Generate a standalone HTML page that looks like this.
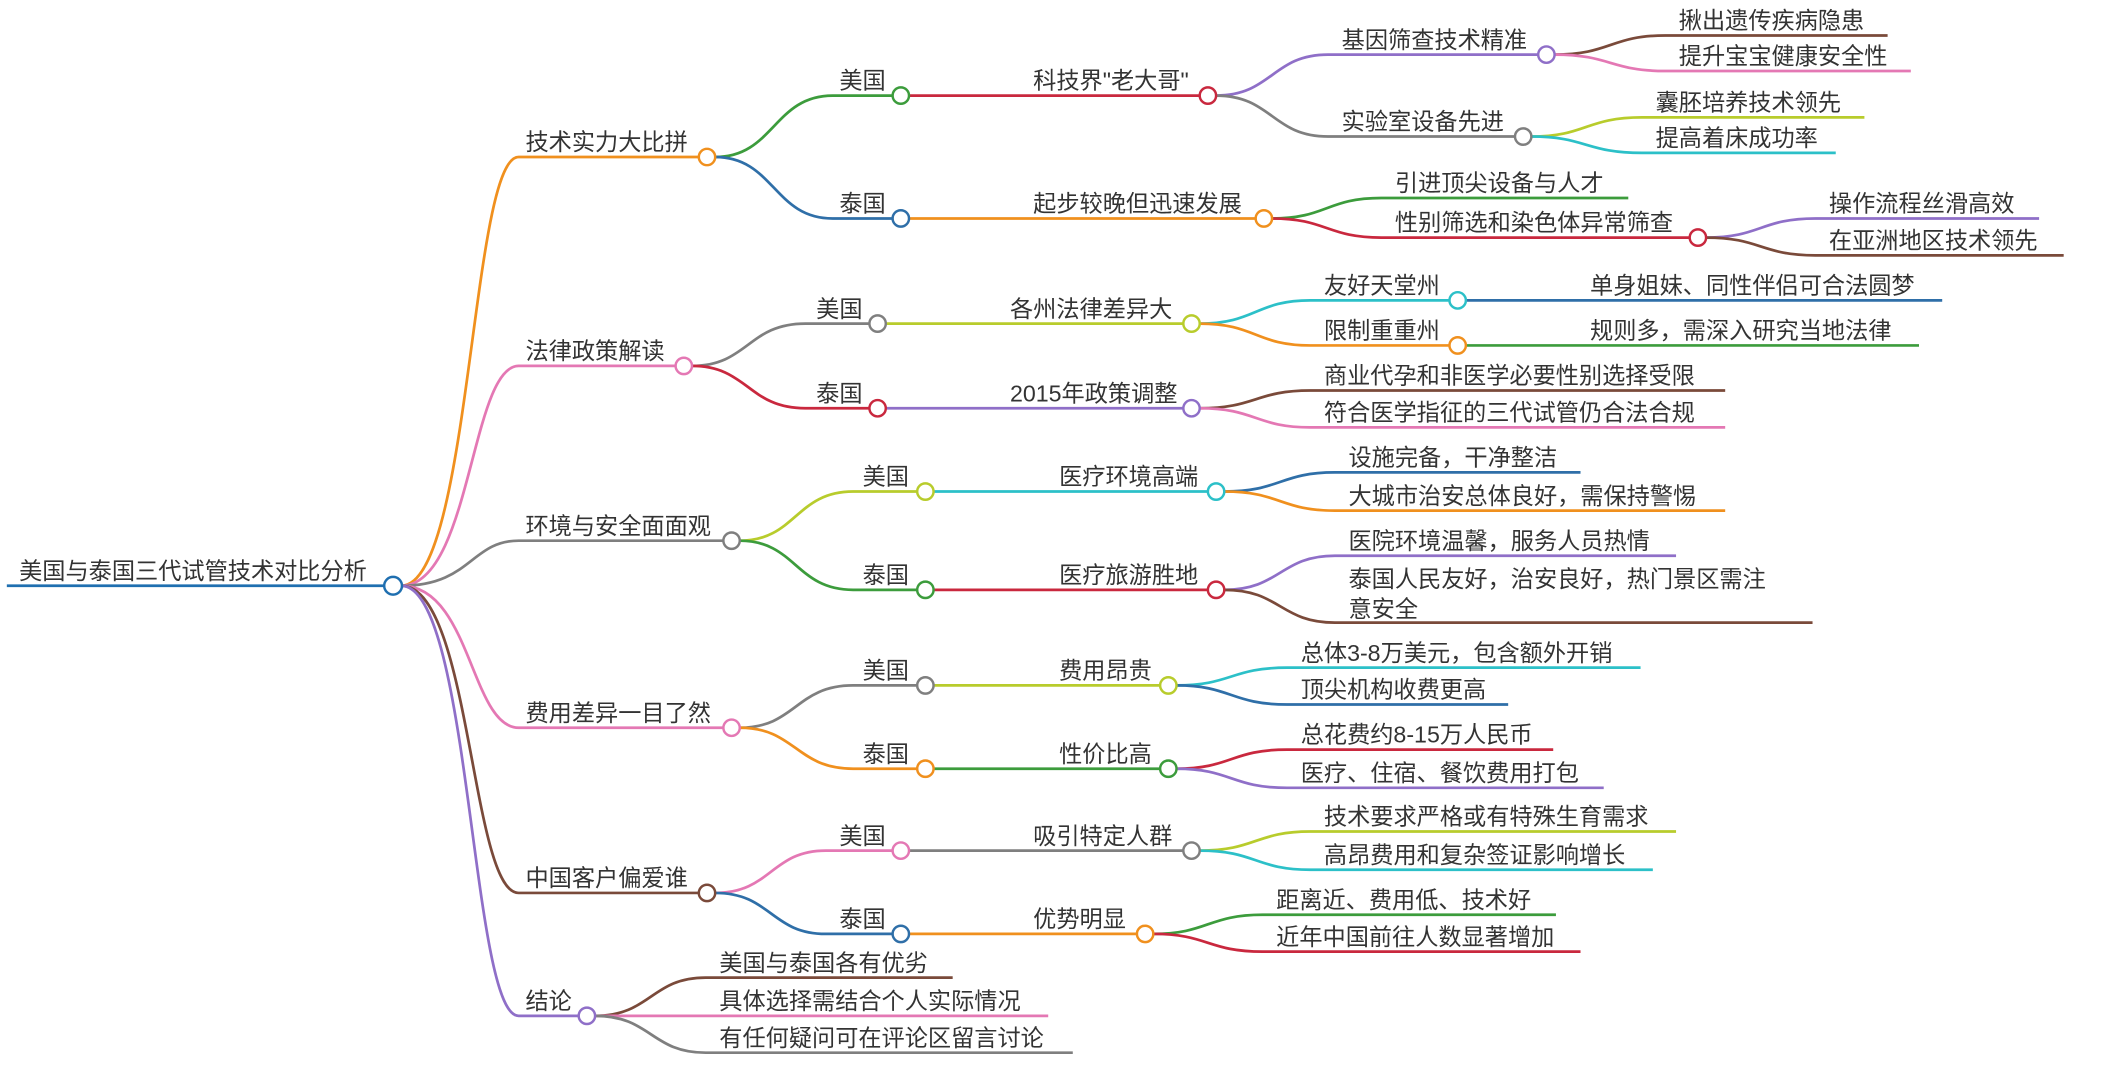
<!DOCTYPE html>
<html><head><meta charset="utf-8"><style>
html,body{margin:0;padding:0;background:#fff;}
svg{display:block;}
text{font-family:"Liberation Sans","Noto Sans CJK SC",sans-serif;font-size:17px;fill:#333;}
path{fill:none;stroke-width:2;}
circle{fill:#fff;stroke-width:1.8;}
</style></head><body>
<svg width="2121" height="1080" viewBox="0 0 1554 791" preserveAspectRatio="none" xmlns="http://www.w3.org/2000/svg">
<!-- root -->
<path d="M5 429 L288 429" stroke="#1f6fb0" stroke-width="3"/>
<text x="14" y="424">美国与泰国三代试管技术对比分析</text>
<path d="M294 429 C345 429,345 115,380 115 L518 115" stroke="#f0901e"/>
<path d="M294 429 C345 429,345 268,380 268 L501 268" stroke="#e478b4"/>
<path d="M294 429 C345 429,345 396,380 396 L536 396" stroke="#7f7f7f"/>
<path d="M294 429 C345 429,345 533,380 533 L536 533" stroke="#e478b4"/>
<path d="M294 429 C345 429,345 654,380 654 L518 654" stroke="#7a4a3a"/>
<path d="M294 429 C345 429,345 744,380 744 L430 744" stroke="#8f6fc8"/>
<text x="385" y="110">技术实力大比拼</text>
<text x="385" y="263">法律政策解读</text>
<text x="385" y="391">环境与安全面面观</text>
<text x="385" y="528">费用差异一目了然</text>
<text x="385" y="649">中国客户偏爱谁</text>
<text x="385" y="739">结论</text>

<!-- Tech -->
<path d="M524 115 C567 115,567 70,610 70 L660 70" stroke="#3c9c3c"/>
<path d="M524 115 C567 115,567 160,610 160 L660 160" stroke="#2f6fa8"/>
<text x="615" y="65">美国</text><text x="615" y="155">泰国</text>
<path d="M666 70 L885 70" stroke="#c9283e"/>
<path d="M666 160 L926 160" stroke="#f0901e"/>
<text x="757" y="65">科技界"老大哥"</text>
<text x="757" y="155">起步较晚但迅速发展</text>
<path d="M891 70 C932 70,932 40,973 40 L1133 40" stroke="#8f6fc8"/>
<path d="M891 70 C932 70,932 100,973 100 L1116 100" stroke="#7f7f7f"/>
<text x="983" y="35">基因筛查技术精准</text>
<text x="983" y="95">实验室设备先进</text>
<path d="M1139 40 C1180 40,1180 26,1220 26 L1383 26" stroke="#7a4a3a"/>
<path d="M1139 40 C1180 40,1180 52,1220 52 L1400 52" stroke="#e478b4"/>
<text x="1230" y="21">揪出遗传疾病隐患</text>
<text x="1230" y="47">提升宝宝健康安全性</text>
<path d="M1122 100 C1162 100,1162 86,1203 86 L1366 86" stroke="#b8cc2c"/>
<path d="M1122 100 C1162 100,1162 112,1203 112 L1345 112" stroke="#2cc0c8"/>
<text x="1213" y="81">囊胚培养技术领先</text>
<text x="1213" y="107">提高着床成功率</text>
<path d="M932 160 C972 160,972 145,1012 145 L1193 145" stroke="#3c9c3c"/>
<path d="M932 160 C972 160,972 174,1012 174 L1244 174" stroke="#c9283e"/>
<text x="1022" y="140">引进顶尖设备与人才</text>
<text x="1022" y="169">性别筛选和染色体异常筛查</text>
<path d="M1250 174 C1290 174,1290 160,1330 160 L1494 160" stroke="#8f6fc8"/>
<path d="M1250 174 C1290 174,1290 187,1330 187 L1512 187" stroke="#7a4a3a"/>
<text x="1340" y="155">操作流程丝滑高效</text>
<text x="1340" y="182">在亚洲地区技术领先</text>

<!-- Law -->
<path d="M507 268 C548 268,548 237,590 237 L643 237" stroke="#7f7f7f"/>
<path d="M507 268 C548 268,548 299,590 299 L643 299" stroke="#c9283e"/>
<text x="598" y="232">美国</text><text x="598" y="294">泰国</text>
<path d="M649 237 L873 237" stroke="#b8cc2c"/>
<path d="M649 299 L873 299" stroke="#8f6fc8"/>
<text x="740" y="232">各州法律差异大</text>
<text x="740" y="294">2015年政策调整</text>
<path d="M879 237 C920 237,920 220,960 220 L1068 220" stroke="#2cc0c8"/>
<path d="M879 237 C920 237,920 253,960 253 L1068 253" stroke="#f0901e"/>
<text x="970" y="215">友好天堂州</text>
<text x="970" y="248">限制重重州</text>
<path d="M1074 220 L1423 220" stroke="#2f6fa8"/>
<path d="M1074 253 L1406 253" stroke="#3c9c3c"/>
<text x="1165" y="215">单身姐妹、同性伴侣可合法圆梦</text>
<text x="1165" y="248">规则多，需深入研究当地法律</text>
<path d="M879 299 C920 299,920 286,960 286 L1264 286" stroke="#7a4a3a"/>
<path d="M879 299 C920 299,920 313,960 313 L1264 313" stroke="#e478b4"/>
<text x="970" y="281">商业代孕和非医学必要性别选择受限</text>
<text x="970" y="308">符合医学指征的三代试管仍合法合规</text>

<!-- Env -->
<path d="M542 396 C583 396,583 360,625 360 L678 360" stroke="#b8cc2c"/>
<path d="M542 396 C583 396,583 432,625 432 L678 432" stroke="#3c9c3c"/>
<text x="632" y="355">美国</text><text x="632" y="427">泰国</text>
<path d="M684 360 L891 360" stroke="#2cc0c8"/>
<path d="M684 432 L891 432" stroke="#c9283e"/>
<text x="776" y="355">医疗环境高端</text>
<text x="776" y="427">医疗旅游胜地</text>
<path d="M897 360 C938 360,938 346,978 346 L1158 346" stroke="#2f6fa8"/>
<path d="M897 360 C938 360,938 374,978 374 L1264 374" stroke="#f0901e"/>
<text x="988" y="341">设施完备，干净整洁</text>
<text x="988" y="369">大城市治安总体良好，需保持警惕</text>
<path d="M897 432 C938 432,938 407,978 407 L1228 407" stroke="#8f6fc8"/>
<path d="M897 432 C938 432,938 456,978 456 L1328 456" stroke="#7a4a3a"/>
<text x="988" y="402">医院环境温馨，服务人员热情</text>
<text x="988" y="430">泰国人民友好，治安良好，热门景区需注</text>
<text x="988" y="452">意安全</text>

<!-- Cost -->
<path d="M542 533 C583 533,583 502,625 502 L678 502" stroke="#7f7f7f"/>
<path d="M542 533 C583 533,583 563,625 563 L678 563" stroke="#f0901e"/>
<text x="632" y="497">美国</text><text x="632" y="558">泰国</text>
<path d="M684 502 L856 502" stroke="#b8cc2c"/>
<path d="M684 563 L856 563" stroke="#3c9c3c"/>
<text x="776" y="497">费用昂贵</text>
<text x="776" y="558">性价比高</text>
<path d="M862 502 C902 502,902 489,943 489 L1202 489" stroke="#2cc0c8"/>
<path d="M862 502 C902 502,902 516,943 516 L1105 516" stroke="#2f6fa8"/>
<text x="953" y="484">总体3-8万美元，包含额外开销</text>
<text x="953" y="511">顶尖机构收费更高</text>
<path d="M862 563 C902 563,902 549,943 549 L1138 549" stroke="#c9283e"/>
<path d="M862 563 C902 563,902 577,943 577 L1175 577" stroke="#8f6fc8"/>
<text x="953" y="544">总花费约8-15万人民币</text>
<text x="953" y="572">医疗、住宿、餐饮费用打包</text>

<!-- Pref -->
<path d="M524 654 C565 654,565 623,605 623 L660 623" stroke="#e478b4"/>
<path d="M524 654 C565 654,565 684,605 684 L660 684" stroke="#2f6fa8"/>
<text x="615" y="618">美国</text><text x="615" y="679">泰国</text>
<path d="M666 623 L873 623" stroke="#7f7f7f"/>
<path d="M666 684 L839 684" stroke="#f0901e"/>
<text x="757" y="618">吸引特定人群</text>
<text x="757" y="679">优势明显</text>
<path d="M879 623 C920 623,920 609,960 609 L1228 609" stroke="#b8cc2c"/>
<path d="M879 623 C920 623,920 637,960 637 L1211 637" stroke="#2cc0c8"/>
<text x="970" y="604">技术要求严格或有特殊生育需求</text>
<text x="970" y="632">高昂费用和复杂签证影响增长</text>
<path d="M845 684 C885 684,885 670,925 670 L1140 670" stroke="#3c9c3c"/>
<path d="M845 684 C885 684,885 697,925 697 L1158 697" stroke="#c9283e"/>
<text x="935" y="665">距离近、费用低、技术好</text>
<text x="935" y="692">近年中国前往人数显著增加</text>

<!-- Conclusion -->
<path d="M436 744 C477 744,477 716,517 716 L698 716" stroke="#7a4a3a"/>
<path d="M436 744 L768 744" stroke="#e478b4"/>
<path d="M436 744 C477 744,477 771,517 771 L786 771" stroke="#7f7f7f"/>
<text x="527" y="711">美国与泰国各有优劣</text>
<text x="527" y="739">具体选择需结合个人实际情况</text>
<text x="527" y="766">有任何疑问可在评论区留言讨论</text>

<!-- circles -->
<circle cx="288" cy="429" r="6.5" stroke="#1f6fb0" stroke-width="2"/>
<circle cx="518" cy="115" r="6" stroke="#f0901e"/>
<circle cx="501" cy="268" r="6" stroke="#e478b4"/>
<circle cx="536" cy="396" r="6" stroke="#7f7f7f"/>
<circle cx="536" cy="533" r="6" stroke="#e478b4"/>
<circle cx="518" cy="654" r="6" stroke="#7a4a3a"/>
<circle cx="430" cy="744" r="6" stroke="#8f6fc8"/>
<circle cx="660" cy="70" r="6" stroke="#3c9c3c"/>
<circle cx="660" cy="160" r="6" stroke="#2f6fa8"/>
<circle cx="885" cy="70" r="6" stroke="#c9283e"/>
<circle cx="926" cy="160" r="6" stroke="#f0901e"/>
<circle cx="1133" cy="40" r="6" stroke="#8f6fc8"/>
<circle cx="1116" cy="100" r="6" stroke="#7f7f7f"/>
<circle cx="1244" cy="174" r="6" stroke="#c9283e"/>
<circle cx="643" cy="237" r="6" stroke="#7f7f7f"/>
<circle cx="643" cy="299" r="6" stroke="#c9283e"/>
<circle cx="873" cy="237" r="6" stroke="#b8cc2c"/>
<circle cx="873" cy="299" r="6" stroke="#8f6fc8"/>
<circle cx="1068" cy="220" r="6" stroke="#2cc0c8"/>
<circle cx="1068" cy="253" r="6" stroke="#f0901e"/>
<circle cx="678" cy="360" r="6" stroke="#b8cc2c"/>
<circle cx="678" cy="432" r="6" stroke="#3c9c3c"/>
<circle cx="891" cy="360" r="6" stroke="#2cc0c8"/>
<circle cx="891" cy="432" r="6" stroke="#c9283e"/>
<circle cx="678" cy="502" r="6" stroke="#7f7f7f"/>
<circle cx="678" cy="563" r="6" stroke="#f0901e"/>
<circle cx="856" cy="502" r="6" stroke="#b8cc2c"/>
<circle cx="856" cy="563" r="6" stroke="#3c9c3c"/>
<circle cx="660" cy="623" r="6" stroke="#e478b4"/>
<circle cx="660" cy="684" r="6" stroke="#2f6fa8"/>
<circle cx="873" cy="623" r="6" stroke="#7f7f7f"/>
<circle cx="839" cy="684" r="6" stroke="#f0901e"/>
</svg>
</body></html>
